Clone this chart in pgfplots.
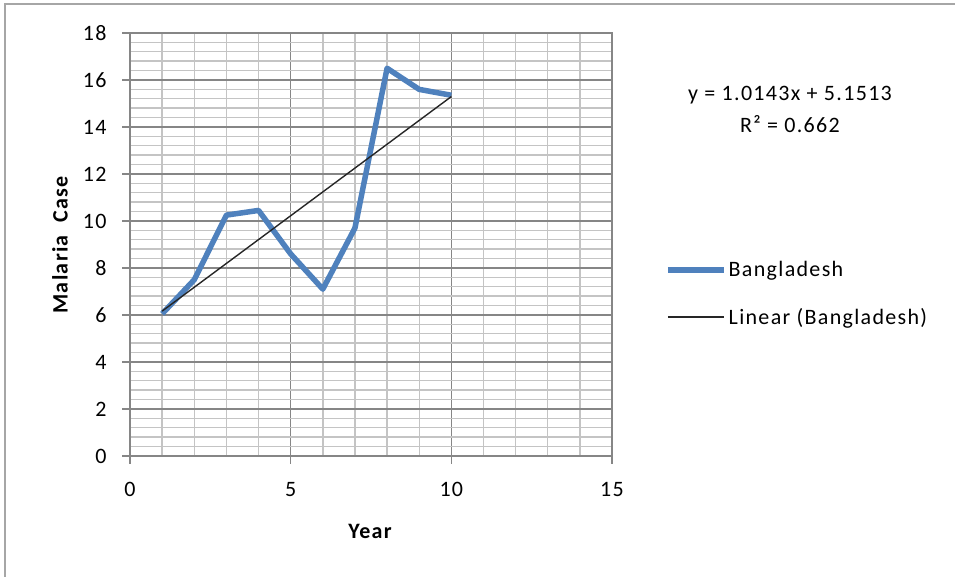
\documentclass[border=0pt]{standalone}
\usepackage{pgfplots}
\pgfplotsset{compat=1.18}
\usepackage{fontspec}
\setmainfont{Carlito}[LetterSpace=6]

\definecolor{seriesblue}{HTML}{4F81BD}
\definecolor{majorgrid}{HTML}{868686}
\definecolor{minorgrid}{HTML}{C4C4C4}
\definecolor{frame}{HTML}{A6A6A6}

\begin{document}
\begin{tikzpicture}[x=1pt,y=1pt]
  % chart area and its frame
  \path[use as bounding box] (0,0) rectangle (955,577);
  \draw[frame, line width=2pt] (5,0) -- (5,573) -- (955,573);

  \begin{axis}[
    at={(130pt,121pt)}, anchor=south west,
    scale only axis, width=482pt, height=423pt,
    xmin=0, xmax=15, ymin=0, ymax=18,
    xtick={0,5,10,15}, ytick={0,2,...,18},
    minor x tick num=4, minor y tick num=4,
    grid=both,
    major grid style={majorgrid, line width=1.4pt},
    minor grid style={minorgrid, line width=1.4pt},
    axis line style={majorgrid, line width=1.4pt},
    major tick length=8pt, minor tick length=0pt,
    xtick pos=bottom, ytick pos=left,
    xtick align=outside, ytick align=outside,
    tick style={majorgrid, line width=1.4pt},
    /pgf/number format/assume math mode=true,
    tick label style={font=\fontsize{22}{26}\selectfont, text=black},
    xticklabel style={yshift=-15pt},
    yticklabel style={xshift=-12pt},
    clip=false,
    legend style={draw=none, fill=none, at={(rel axis cs:1.11,0.465)}, anchor=north west,
      font=\fontsize{22}{26}\selectfont, row sep=26pt, inner sep=0pt,
      /tikz/every even column/.append style={column sep=0pt}},
    legend cell align=left,
    legend image code/.code={\draw[#1] (0pt,0pt) -- (56pt,0pt);},
  ]
    \addplot[seriesblue, line width=5.5pt, line join=round] coordinates {
      (1,6.05) (2,7.5) (3,10.25) (4,10.45) (5,8.6)
      (6,7.1) (7,9.7) (8,16.5) (9,15.6) (10,15.35)
    };
    \addlegendentry{Bangladesh}
    % linear trend: y = 1.0143x + 5.1513
    \addplot[black!85, line width=1.4pt] coordinates {
      (1,6.1656) (10,15.2943)
    };
    \addlegendentry{Linear (Bangladesh)}
    \node[align=center, font=\fontsize{22}{32}\selectfont, anchor=north]
      at (axis cs:20.54,15.88) {y = 1.0143x + 5.1513\\R² = 0.662};
  \end{axis}

  \node[rotate=90, font=\bfseries\fontsize{22}{26}\selectfont] at (60,332) {Malaria\ \ Case};
  \node[font=\bfseries\fontsize{22}{26}\selectfont] at (370,46) {Year};
\end{tikzpicture}
\end{document}
